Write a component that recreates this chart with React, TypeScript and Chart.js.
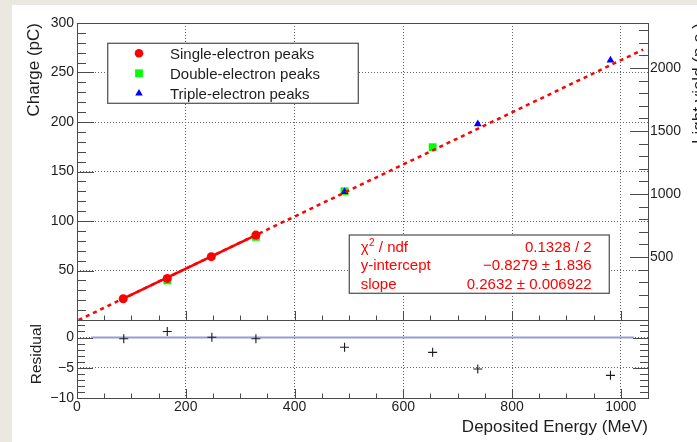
import React, { useEffect, useRef } from 'react';
import { Chart, registerables } from 'chart.js';

Chart.register(...registerables);

const FONT = '"Liberation Sans", Arial, Helvetica, sans-serif';
const RED = '#ff0000';
const GREEN = '#00ff00';
const BLUE = '#0000ff';
const FRAME = '#4a4a4a';
const GRID = '#646464';
const TEXT = '#1e1e1e';

// ---- data ----
const singleX = [85, 166, 247, 329];
const singleY = [21.5, 42, 64, 85.8];
const doubleX = [166, 329, 492, 654];
const doubleY = [40, 84, 130, 174.5];
const tripleX = [492, 737, 981];
const tripleY = [129.5, 198, 262.5];
const globalFitX = [3, 1041];
const globalFitY = [0, 273.2];
const singleFitX = [85, 329];
const singleFitY = [21.5, 85.8];
const residualX = [86, 166, 248, 329, 492, 654, 737, 981];
const residualY = [-0.2, 1.0, 0.05, -0.2, -1.6, -2.45, -5.2, -6.25];
const zeroLineX = [26, 1024];
const zeroLineY = [0, 0];

// ---- ticks ----
const energyTickValues = [0, 200, 400, 600, 800, 1000];
const energyTickLabels = ['0', '200', '400', '600', '800', '1000'];
const chargeTickValues = [50, 100, 150, 200, 250, 300];
const chargeTickLabels = ['50', '100', '150', '200', '250', '300'];
const lightTickValues = [500, 1000, 1500, 2000];
const lightTickLabels = ['500', '1000', '1500', '2000'];
const residualTickValues = [-10, -5, 0];
const residualTickLabels = ['\u221210', '\u22125', '0'];

const legendLabels = ['Single-electron peaks', 'Double-electron peaks', 'Triple-electron peaks'];
const fitNames = ['y-intercept', 'slope'];
const fitValues = ['0.1328 / 2', '\u22120.8279 \u00b1 1.836', '0.2632 \u00b1 0.006922'];

const pts = (xs: number[], ys: number[]) => xs.map((x, i) => ({ x, y: ys[i] }));
const labelFor = (vals: number[], labels: string[]) => (v: any) => {
  const i = vals.indexOf(Number(v));
  return i >= 0 ? labels[i] : '';
};
const setTicks = (vals: number[]) => (s: any) => {
  s.ticks = vals.map((v) => ({ value: v }));
};
const gridColor = (hidden: number[]) => (c: any) =>
  c.tick && hidden.includes(c.tick.value) ? 'rgba(0,0,0,0)' : GRID;

function rotText(ctx: CanvasRenderingContext2D, text: string, x: number, y: number, font: string) {
  ctx.save();
  ctx.translate(x, y);
  ctx.rotate(-Math.PI / 2);
  ctx.font = font;
  ctx.fillStyle = TEXT;
  ctx.textAlign = 'right';
  ctx.textBaseline = 'alphabetic';
  ctx.fillText(text, 0, 0);
  ctx.restore();
}

function vTicks(ctx: CanvasRenderingContext2D, scale: any, from: number, to: number, step: number, major: number, x: number, dir: number, majLen: number, minLen: number) {
  const n = Math.round((to - from) / step);
  for (let k = 0; k <= n; k++) {
    const v = from + k * step;
    const isMajor = Math.abs(v / major - Math.round(v / major)) < 1e-6;
    const y = Math.round(scale.getPixelForValue(v)) + 0.5;
    ctx.moveTo(x, y);
    ctx.lineTo(x + dir * (isMajor ? majLen : minLen), y);
  }
}

function hTicks(ctx: CanvasRenderingContext2D, scale: any, from: number, to: number, step: number, major: number, y: number, majLen: number, minLen: number) {
  const n = Math.round((to - from) / step);
  for (let k = 0; k <= n; k++) {
    const v = from + k * step;
    const isMajor = Math.abs(v / major - Math.round(v / major)) < 1e-6;
    const x = Math.round(scale.getPixelForValue(v)) + 0.5;
    ctx.moveTo(x, y);
    ctx.lineTo(x, y - (isMajor ? majLen : minLen));
  }
}

function drawBox(ctx: CanvasRenderingContext2D, x0: number, y0: number, x1: number, y1: number) {
  ctx.save();
  ctx.fillStyle = '#ffffff';
  ctx.fillRect(x0, y0, x1 - x0, y1 - y0);
  ctx.strokeStyle = '#5a5a5a';
  ctx.lineWidth = 1.3;
  ctx.strokeRect(x0, y0, x1 - x0, y1 - y0);
  ctx.restore();
}

const topPlugin = {
  id: 'topDecor',
  afterDatasetsDraw(chart: any) {
    const ctx: CanvasRenderingContext2D = chart.ctx;
    // legend
    drawBox(ctx, 107.7, 43.3, 358.3, 103.3);
    ctx.save();
    ctx.fillStyle = RED;
    ctx.beginPath();
    ctx.arc(139, 53.3, 4.3, 0, Math.PI * 2);
    ctx.fill();
    ctx.fillStyle = GREEN;
    ctx.fillRect(139 - 3.9, 73.3 - 3.9, 7.8, 7.8);
    ctx.fillStyle = BLUE;
    ctx.beginPath();
    ctx.moveTo(139, 93.3 - 4.4);
    ctx.lineTo(139 + 3.8, 93.3 + 2.2);
    ctx.lineTo(139 - 3.8, 93.3 + 2.2);
    ctx.closePath();
    ctx.fill();
    ctx.fillStyle = TEXT;
    ctx.font = `15px ${FONT}`;
    ctx.textBaseline = 'alphabetic';
    ctx.textAlign = 'left';
    legendLabels.forEach((t, i) => ctx.fillText(t, 170, 58.7 + i * 20));
    ctx.restore();

    // fit box
    drawBox(ctx, 349.3, 235, 609.3, 293.3);
    ctx.save();
    ctx.fillStyle = RED;
    ctx.textBaseline = 'alphabetic';
    ctx.textAlign = 'left';
    ctx.font = `15px ${FONT}`;
    let x = 360.7;
    ctx.fillText('\u03c7', x, 251.5);
    x += ctx.measureText('\u03c7').width + 0.5;
    ctx.font = `10px ${FONT}`;
    ctx.fillText('2', x, 245.5);
    x += ctx.measureText('2').width;
    ctx.font = `15px ${FONT}`;
    ctx.fillText(' / ndf', x, 251.5);
    fitNames.forEach((t, i) => ctx.fillText(t, 360.7, 270 + i * 18.5));
    ctx.textAlign = 'right';
    fitValues.forEach((t, i) => ctx.fillText(t, 591.7, 251.5 + i * 18.5));
    ctx.restore();
  },
  afterDraw(chart: any) {
    const ctx: CanvasRenderingContext2D = chart.ctx;
    const { left: L, right: R, top: T, bottom: B } = chart.chartArea;
    ctx.save();
    ctx.strokeStyle = FRAME;
    ctx.lineWidth = 1;
    ctx.beginPath();
    vTicks(ctx, chart.scales.y, 0, 300, 10, 50, L, 1, 17, 9);
    vTicks(ctx, chart.scales.y2, 0, 2300, 100, 500, R, -1, 18, 9);
    hTicks(ctx, chart.scales.x, 0, 1050, 50, 200, B, 9, 4.5);
    ctx.stroke();
    ctx.strokeRect(Math.round(L) + 0.5, Math.round(T) + 0.5, Math.round(R - L), Math.round(B - T));
    ctx.restore();
    rotText(ctx, 'Charge (pC)', 38.5, 23, `17px ${FONT}`);
    rotText(ctx, 'Light yield (p.e.)', 704, 23, `17px ${FONT}`);
  },
};

const botPlugin = {
  id: 'botDecor',
  afterDraw(chart: any) {
    const ctx: CanvasRenderingContext2D = chart.ctx;
    const { left: L, right: R, top: T, bottom: B } = chart.chartArea;
    ctx.save();
    ctx.strokeStyle = FRAME;
    ctx.lineWidth = 1;
    ctx.beginPath();
    vTicks(ctx, chart.scales.y, -10, 2, 1, 5, L, 1, 16, 8);
    vTicks(ctx, chart.scales.y, -10, 2, 1, 5, R, -1, 15, 8);
    hTicks(ctx, chart.scales.x, 0, 1050, 50, 200, B, 9, 4.5);
    ctx.stroke();
    ctx.strokeRect(Math.round(L) + 0.5, Math.round(T) + 0.5, Math.round(R - L), Math.round(B - T));
    ctx.restore();
    rotText(ctx, 'Residual', 40.5, 324, `15.5px ${FONT}`);
    ctx.save();
    ctx.font = `17px ${FONT}`;
    ctx.fillStyle = TEXT;
    ctx.textAlign = 'right';
    ctx.textBaseline = 'alphabetic';
    ctx.fillText('Deposited Energy (MeV)', 648, 432);
    ctx.restore();
  },
};

const tickFont = { family: FONT, size: 14 };

function topConfig(): any {
  return {
    type: 'scatter',
    data: {
      datasets: [
        { data: pts(singleX, singleY), pointStyle: 'circle', pointRadius: 4.5, backgroundColor: RED, borderColor: RED, borderWidth: 0, showLine: false },
        { data: pts(singleFitX, singleFitY), showLine: true, pointRadius: 0, borderColor: RED, borderWidth: 2.5 },
        { data: pts(globalFitX, globalFitY), showLine: true, pointRadius: 0, borderColor: RED, borderWidth: 2.5, borderDash: [4, 4] },
        { data: pts(tripleX, tripleY), pointStyle: 'triangle', pointRadius: 4.5, backgroundColor: BLUE, borderColor: BLUE, borderWidth: 0, showLine: false },
        { data: pts(doubleX, doubleY), pointStyle: 'rect', pointRadius: 5.6, backgroundColor: GREEN, borderColor: GREEN, borderWidth: 0, showLine: false },
      ],
    },
    options: {
      responsive: false,
      animation: false,
      devicePixelRatio: 1,
      events: [],
      layout: { padding: { top: 23, left: 0, right: 0, bottom: 0 } },
      plugins: { legend: { display: false }, tooltip: { enabled: false } },
      scales: {
        x: {
          type: 'linear', position: 'bottom', min: 0, max: 1050,
          afterBuildTicks: setTicks(energyTickValues),
          ticks: { display: false },
          grid: { color: gridColor([0]), drawTicks: false, lineWidth: 1 },
          border: { display: false, dash: [1, 2] },
          afterFit: (s: any) => { s.height = 122; },
        },
        y: {
          type: 'linear', position: 'left', min: 0, max: 300,
          afterBuildTicks: setTicks(chargeTickValues),
          ticks: { padding: 3, font: tickFont, color: TEXT, autoSkip: false, callback: labelFor(chargeTickValues, chargeTickLabels) },
          grid: { color: gridColor([300]), drawTicks: false, lineWidth: 1 },
          border: { display: false, dash: [1, 2] },
          afterFit: (s: any) => { s.width = 77; },
        },
        y2: {
          type: 'linear', position: 'right', min: 0, max: 2357,
          afterBuildTicks: setTicks(lightTickValues),
          ticks: { padding: 2, font: tickFont, color: TEXT, autoSkip: false, callback: labelFor(lightTickValues, lightTickLabels) },
          grid: { display: false, drawTicks: false },
          border: { display: false },
          afterFit: (s: any) => { s.width = 49; },
        },
      },
    },
    plugins: [topPlugin],
  };
}

function botConfig(): any {
  return {
    type: 'scatter',
    data: {
      datasets: [
        { data: pts(residualX, residualY), pointStyle: 'cross', pointRadius: 4.5, borderColor: '#1a1a1a', borderWidth: 1.1, showLine: false },
        { data: pts(zeroLineX, zeroLineY), showLine: true, pointRadius: 0, borderColor: '#9a9ad8', borderWidth: 2 },
      ],
    },
    options: {
      responsive: false,
      animation: false,
      devicePixelRatio: 1,
      events: [],
      layout: { padding: { top: 320, left: 0, right: 49, bottom: 0 } },
      plugins: { legend: { display: false }, tooltip: { enabled: false } },
      scales: {
        x: {
          type: 'linear', position: 'bottom', min: 0, max: 1050,
          afterBuildTicks: setTicks(energyTickValues),
          ticks: { padding: 1, font: tickFont, color: TEXT, autoSkip: false, maxRotation: 0, callback: labelFor(energyTickValues, energyTickLabels) },
          grid: { color: gridColor([0]), drawTicks: false, lineWidth: 1 },
          border: { display: false, dash: [1, 2] },
          afterFit: (s: any) => { s.height = 44; },
        },
        y: {
          type: 'linear', position: 'left', min: -10, max: 2.9,
          afterBuildTicks: setTicks(residualTickValues),
          ticks: { padding: 3, font: tickFont, color: TEXT, autoSkip: false, callback: labelFor(residualTickValues, residualTickLabels) },
          grid: { color: gridColor([-10]), drawTicks: false, lineWidth: 1 },
          border: { display: false, dash: [1, 2] },
          afterFit: (s: any) => { s.width = 77; },
        },
      },
    },
    plugins: [botPlugin],
  };
}

export default function App() {
  const topRef = useRef<HTMLCanvasElement>(null);
  const botRef = useRef<HTMLCanvasElement>(null);
  useEffect(() => {
    const top = new Chart(topRef.current as HTMLCanvasElement, topConfig());
    const bot = new Chart(botRef.current as HTMLCanvasElement, botConfig());
    return () => {
      top.destroy();
      bot.destroy();
    };
  }, []);
  const cv: React.CSSProperties = { position: 'absolute', left: 0, top: 0, width: 697, height: 442 };
  return (
    <div style={{ position: 'fixed', left: 0, top: 0, width: 697, height: 442, background: '#ebe7e1', overflow: 'hidden' }}>
      <div style={{ position: 'absolute', left: 12, top: 5, right: 0, bottom: 0, background: '#ffffff' }} />
      <canvas ref={botRef} width={697} height={442} style={cv} />
      <canvas ref={topRef} width={697} height={442} style={cv} />
    </div>
  );
}
